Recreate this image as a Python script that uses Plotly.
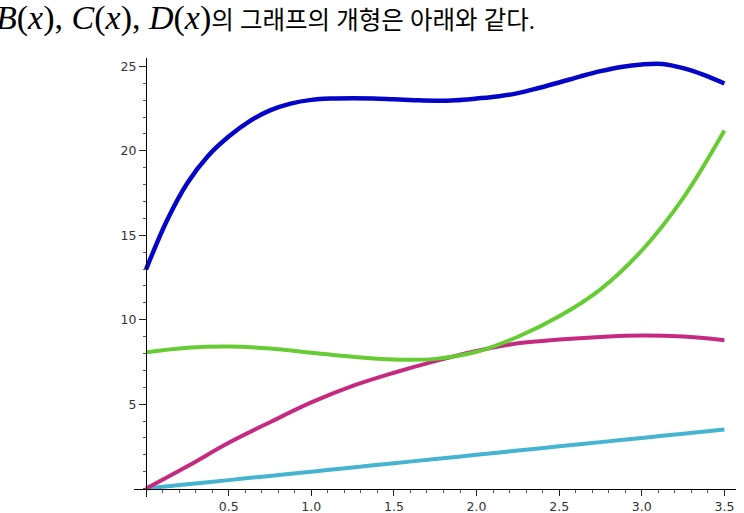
import plotly.graph_objects as go

# values
xGrid = [0, 0.25, 0.5, 0.75, 1.0, 1.25, 1.5, 1.75, 2.0, 2.25, 2.5, 2.75, 3.0, 3.25, 3.5]

xB = [0, 0.125, 0.25, 0.375, 0.5, 0.625, 0.75, 0.875, 1.0, 1.125, 1.25, 1.375, 1.5, 1.625, 1.75,
      1.875, 2.0, 2.125, 2.25, 2.375, 2.5, 2.625, 2.75, 2.875, 3.0, 3.125, 3.25, 3.375, 3.5]
valB = [12.98, 15.85, 18.1, 19.7, 20.85, 21.75, 22.4, 22.8, 23.02, 23.1, 23.12, 23.1, 23.05, 23.0, 22.97,
        23.0, 23.1, 23.22, 23.42, 23.72, 24.05, 24.4, 24.72, 24.97, 25.12, 25.15, 24.9, 24.5, 23.99]

valC = [8.07, 8.34, 8.41, 8.3, 8.05, 7.8, 7.64, 7.68, 8.1, 8.99, 10.2, 11.8, 14.1, 17.2, 21.2]
valD = [0, 1.32, 2.71, 3.93, 5.1, 6.08, 6.86, 7.55, 8.15, 8.6, 8.83, 8.98, 9.06, 9.0, 8.79]
valA = [0, 0.25, 0.5, 0.75, 1.0, 1.25, 1.5, 1.75, 2.0, 2.25, 2.5, 2.75, 3.0, 3.25, 3.5]

xTicks = [0, 0.5, 1.0, 1.5, 2.0, 2.5, 3.0, 3.5]
xTickText = ['', '0.5', '1.0', '1.5', '2.0', '2.5', '3.0', '3.5']
yTicks = [5, 10, 15, 20, 25]

mathPart = '<i>B</i>(<i>x</i>), <i>C</i>(<i>x</i>), <i>D</i>(<i>x</i>)'
koreanPart = '의 그래프의 개형은 아래와 같다.'
titleText = ('<span style="font-size:34px">' + mathPart + '</span>' + koreanPart)

xMin, xMax = -0.073, 3.57
yMin, yMax = -0.5, 25.5

fig = go.Figure()
fig.add_trace(go.Scatter(x=xGrid, y=valA, mode='lines', line=dict(color='#45b4d0', width=4, shape='spline')))
fig.add_trace(go.Scatter(x=xGrid, y=valD, mode='lines', line=dict(color='#c52a80', width=4, shape='spline')))
fig.add_trace(go.Scatter(x=xGrid, y=valC, mode='lines', line=dict(color='#66cc33', width=4, shape='spline')))
fig.add_trace(go.Scatter(x=xB, y=valB, mode='lines', line=dict(color='#0505c8', width=4.5, shape='spline')))

axisFont = dict(family='DejaVu Sans', size=12.5, color='#333333')

fig.update_layout(
    width=744, height=513,
    margin=dict(l=134, r=8, t=58, b=16),
    paper_bgcolor='white', plot_bgcolor='white',
    showlegend=False,
    xaxis=dict(range=[xMin, xMax], domain=[0, 1], anchor='free', automargin=False,
               position=(0 - yMin) / (yMax - yMin),
               showgrid=False, zeroline=False, showline=True, linecolor='black', linewidth=1.3,
               ticks='outside', ticklen=6, tickwidth=1, tickcolor='#222222',
               tickvals=xTicks, ticktext=xTickText, tickfont=axisFont,
               minor=dict(dtick=0.1, tick0=0, ticks='outside', ticklen=3, tickcolor='#555555')),
    yaxis=dict(range=[yMin, yMax], domain=[0, 1], anchor='free', automargin=False,
               position=(0 - xMin) / (xMax - xMin),
               showgrid=False, zeroline=False, showline=True, linecolor='black', linewidth=1.3,
               ticks='outside', ticklen=7, tickwidth=1, tickcolor='#222222',
               tickvals=yTicks, tickfont=axisFont,
               minor=dict(dtick=1, tick0=0, ticks='outside', ticklen=3, tickcolor='#555555')),
)

fig.add_annotation(
    text=titleText, xref='paper', yref='paper',
    x=-0.233, y=1.09, xanchor='left', yanchor='middle', showarrow=False,
    font=dict(family='Liberation Serif, Noto Sans CJK KR', size=24.5, color='black'),
)

# the page body has a default 8px margin; drop it so the figure sits at the window corner
fig.write_html("out.html", config={'displayModeBar': False},
               post_script="document.body.style.margin = '0';")
